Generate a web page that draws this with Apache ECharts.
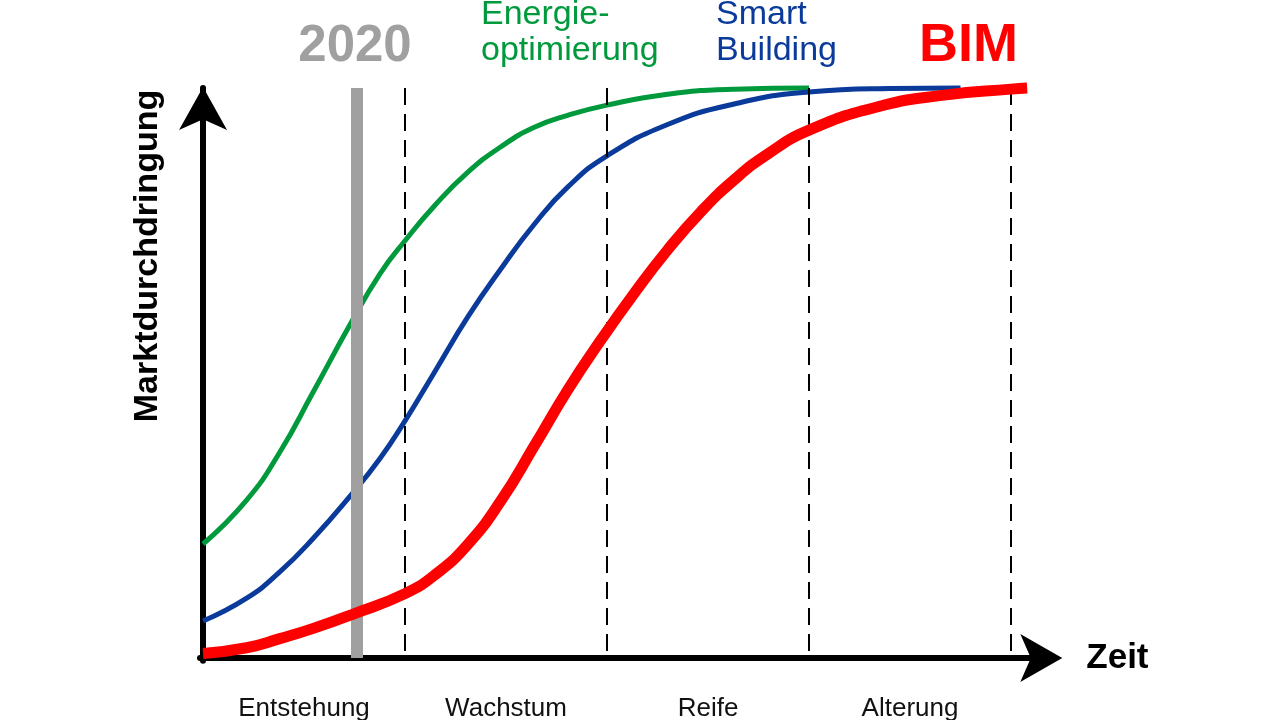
<!DOCTYPE html>
<html>
<head>
<meta charset="utf-8">
<script src="https://cdn.jsdelivr.net/npm/echarts@6/dist/echarts.min.js"></script>
<style>
html,body{margin:0;padding:0;background:#fff;}
#chart{width:1280px;height:720px;}
</style>
</head>
<body>
<div id="chart"></div>
<script>
// Phases (x-axis categories, each phase spans 1 time unit)
const phases = ['Entstehung', 'Wachstum', 'Reife', 'Alterung'];
const phaseCenters = [0.5, 1.5, 2.5, 3.5];
const phaseBounds = [1, 2, 3, 4];
const year2020Pos = 0.76;

// Energieoptimierung (green)
const greenT = [0, 0.216, 0.38, 0.546, 0.728, 0.876, 1.0, 1.145, 1.31, 1.475, 1.64, 1.805, 2.0, 2.3, 2.63, 3.0];
const greenV = [20.0, 27.7, 36.1, 46.7, 58.5, 67.4, 73.2, 79.3, 85.2, 89.7, 93.1, 95.2, 97.0, 98.9, 99.8, 100];

// Smart Building (blue)
const blueT = [0, 0.216, 0.38, 0.546, 0.728, 0.876, 1.0, 1.145, 1.31, 1.475, 1.64, 1.805, 2.0, 2.3, 2.63, 3.0, 3.4, 3.75];
const blueV = [6.5, 10.5, 15.1, 21.0, 28.4, 35.0, 41.6, 50.1, 59.8, 68.3, 76.1, 82.6, 88.1, 93.6, 97.2, 99.3, 99.9, 100];

// BIM (red)
const redT = [0, 0.216, 0.38, 0.546, 0.75, 1.0, 1.145, 1.31, 1.475, 1.64, 1.805, 1.97, 2.135, 2.3, 2.465, 2.63, 2.795, 3.0, 3.35, 3.68, 4.0, 4.08];
const redV = [0.8, 1.8, 3.4, 5.2, 7.8, 11.3, 14.5, 19.9, 27.6, 37.2, 47.0, 55.8, 64.0, 71.6, 78.3, 83.9, 88.4, 92.6, 96.8, 98.8, 99.8, 100];

const zip = (t, v) => t.map((x, i) => [x, v[i]]);
const FONT = "'Liberation Sans', Arial, sans-serif";

const chart = echarts.init(document.getElementById('chart'), null, {renderer: 'canvas'});

const curveBase = {
  type: 'line',
  showSymbol: false,
  symbol: 'none',
  smooth: 0.5,
  clip: false,
  silent: true
};

chart.setOption({
  animation: false,
  backgroundColor: '#ffffff',
  grid: {
    left: 200, right: 238.7, top: 88, bottom: 59.15,
    containLabel: false, outerBoundsMode: 'none'
  },
  xAxis: {
    type: 'value',
    min: -0.015, max: 4.15,
    splitLine: {show: false},
    axisTick: {show: false},
    axisLine: {
      show: true, onZero: true,
      lineStyle: {color: '#000', width: 6},
      symbol: ['none', 'arrow'],
      symbolSize: [36, 42],
      symbolOffset: [0, 21]
    },
    axisLabel: {
      show: true,
      customValues: phaseCenters,
      margin: 35,
      fontSize: 26,
      fontFamily: FONT,
      color: '#111',
      formatter: function (val) {
        const i = phaseCenters.findIndex(c => Math.abs(c - val) < 1e-6);
        return i >= 0 ? phases[i] : '';
      }
    },
    name: 'Zeit',
    nameLocation: 'end',
    nameGap: 45,
    nameTextStyle: {fontSize: 35, fontWeight: 'bold', color: '#000', fontFamily: FONT}
  },
  yAxis: {
    type: 'value',
    min: -0.5, max: 100,
    splitLine: {show: false},
    axisTick: {show: false},
    axisLabel: {show: false},
    axisLine: {
      show: true, onZero: true,
      lineStyle: {color: '#000', width: 6},
      symbol: ['none', 'arrow'],
      symbolSize: [36, 43],
      symbolOffset: [0, 1]
    }
  },
  graphic: [
    {type: 'text', x: 148, y: 256, rotation: Math.PI / 2,
      style: {text: 'Marktdurchdringung', fontSize: 34, fontWeight: 'bold', fontFamily: FONT,
        fill: '#000', align: 'center', verticalAlign: 'middle'}},
    {type: 'text', x: 355, y: 21, z: 10,
      style: {text: '2020', fontSize: 51, fontWeight: 'bold', fontFamily: FONT,
        fill: '#a0a0a0', align: 'center', verticalAlign: 'top'}},
    {type: 'text', x: 481, y: -3, z: 10,
      style: {text: 'Energie-\noptimierung', fontSize: 34, lineHeight: 36, fontFamily: FONT,
        fill: '#009a3d', align: 'left', verticalAlign: 'top'}},
    {type: 'text', x: 716, y: -3, z: 10,
      style: {text: 'Smart\nBuilding', fontSize: 34, lineHeight: 36, fontFamily: FONT,
        fill: '#0a3a9a', align: 'left', verticalAlign: 'top'}},
    {type: 'text', x: 919, y: 19, z: 10,
      style: {text: 'BIM', fontSize: 54, fontWeight: 'bold', fontFamily: FONT,
        fill: '#ff0000', align: 'left', verticalAlign: 'top'}}
  ],
  series: [
    {
      type: 'line', data: [], z: 1, silent: true,
      markLine: {
        silent: true, symbol: 'none', animation: false,
        label: {show: false},
        lineStyle: {color: '#000', width: 2, type: [17, 9]},
        data: phaseBounds.map(b => [{coord: [b, 100]}, {coord: [b, 0]}])
      }
    },
    {
      type: 'line', data: [], z: 1, silent: true,
      markLine: {
        silent: true, symbol: 'none', animation: false,
        label: {show: false},
        lineStyle: {color: '#a0a0a0', width: 12, type: 'solid'},
        data: [[{coord: [year2020Pos, 0]}, {coord: [year2020Pos, 100]}]]
      }
    },
    Object.assign({}, curveBase, {name: 'Energieoptimierung', z: 3, data: zip(greenT, greenV),
      lineStyle: {color: '#009a3d', width: 5}}),
    Object.assign({}, curveBase, {name: 'Smart Building', z: 4, data: zip(blueT, blueV),
      lineStyle: {color: '#0a3a9a', width: 5}}),
    Object.assign({}, curveBase, {name: 'BIM', z: 5, data: zip(redT, redV),
      lineStyle: {color: '#ff0000', width: 11}})
  ]
});
</script>
</body>
</html>
